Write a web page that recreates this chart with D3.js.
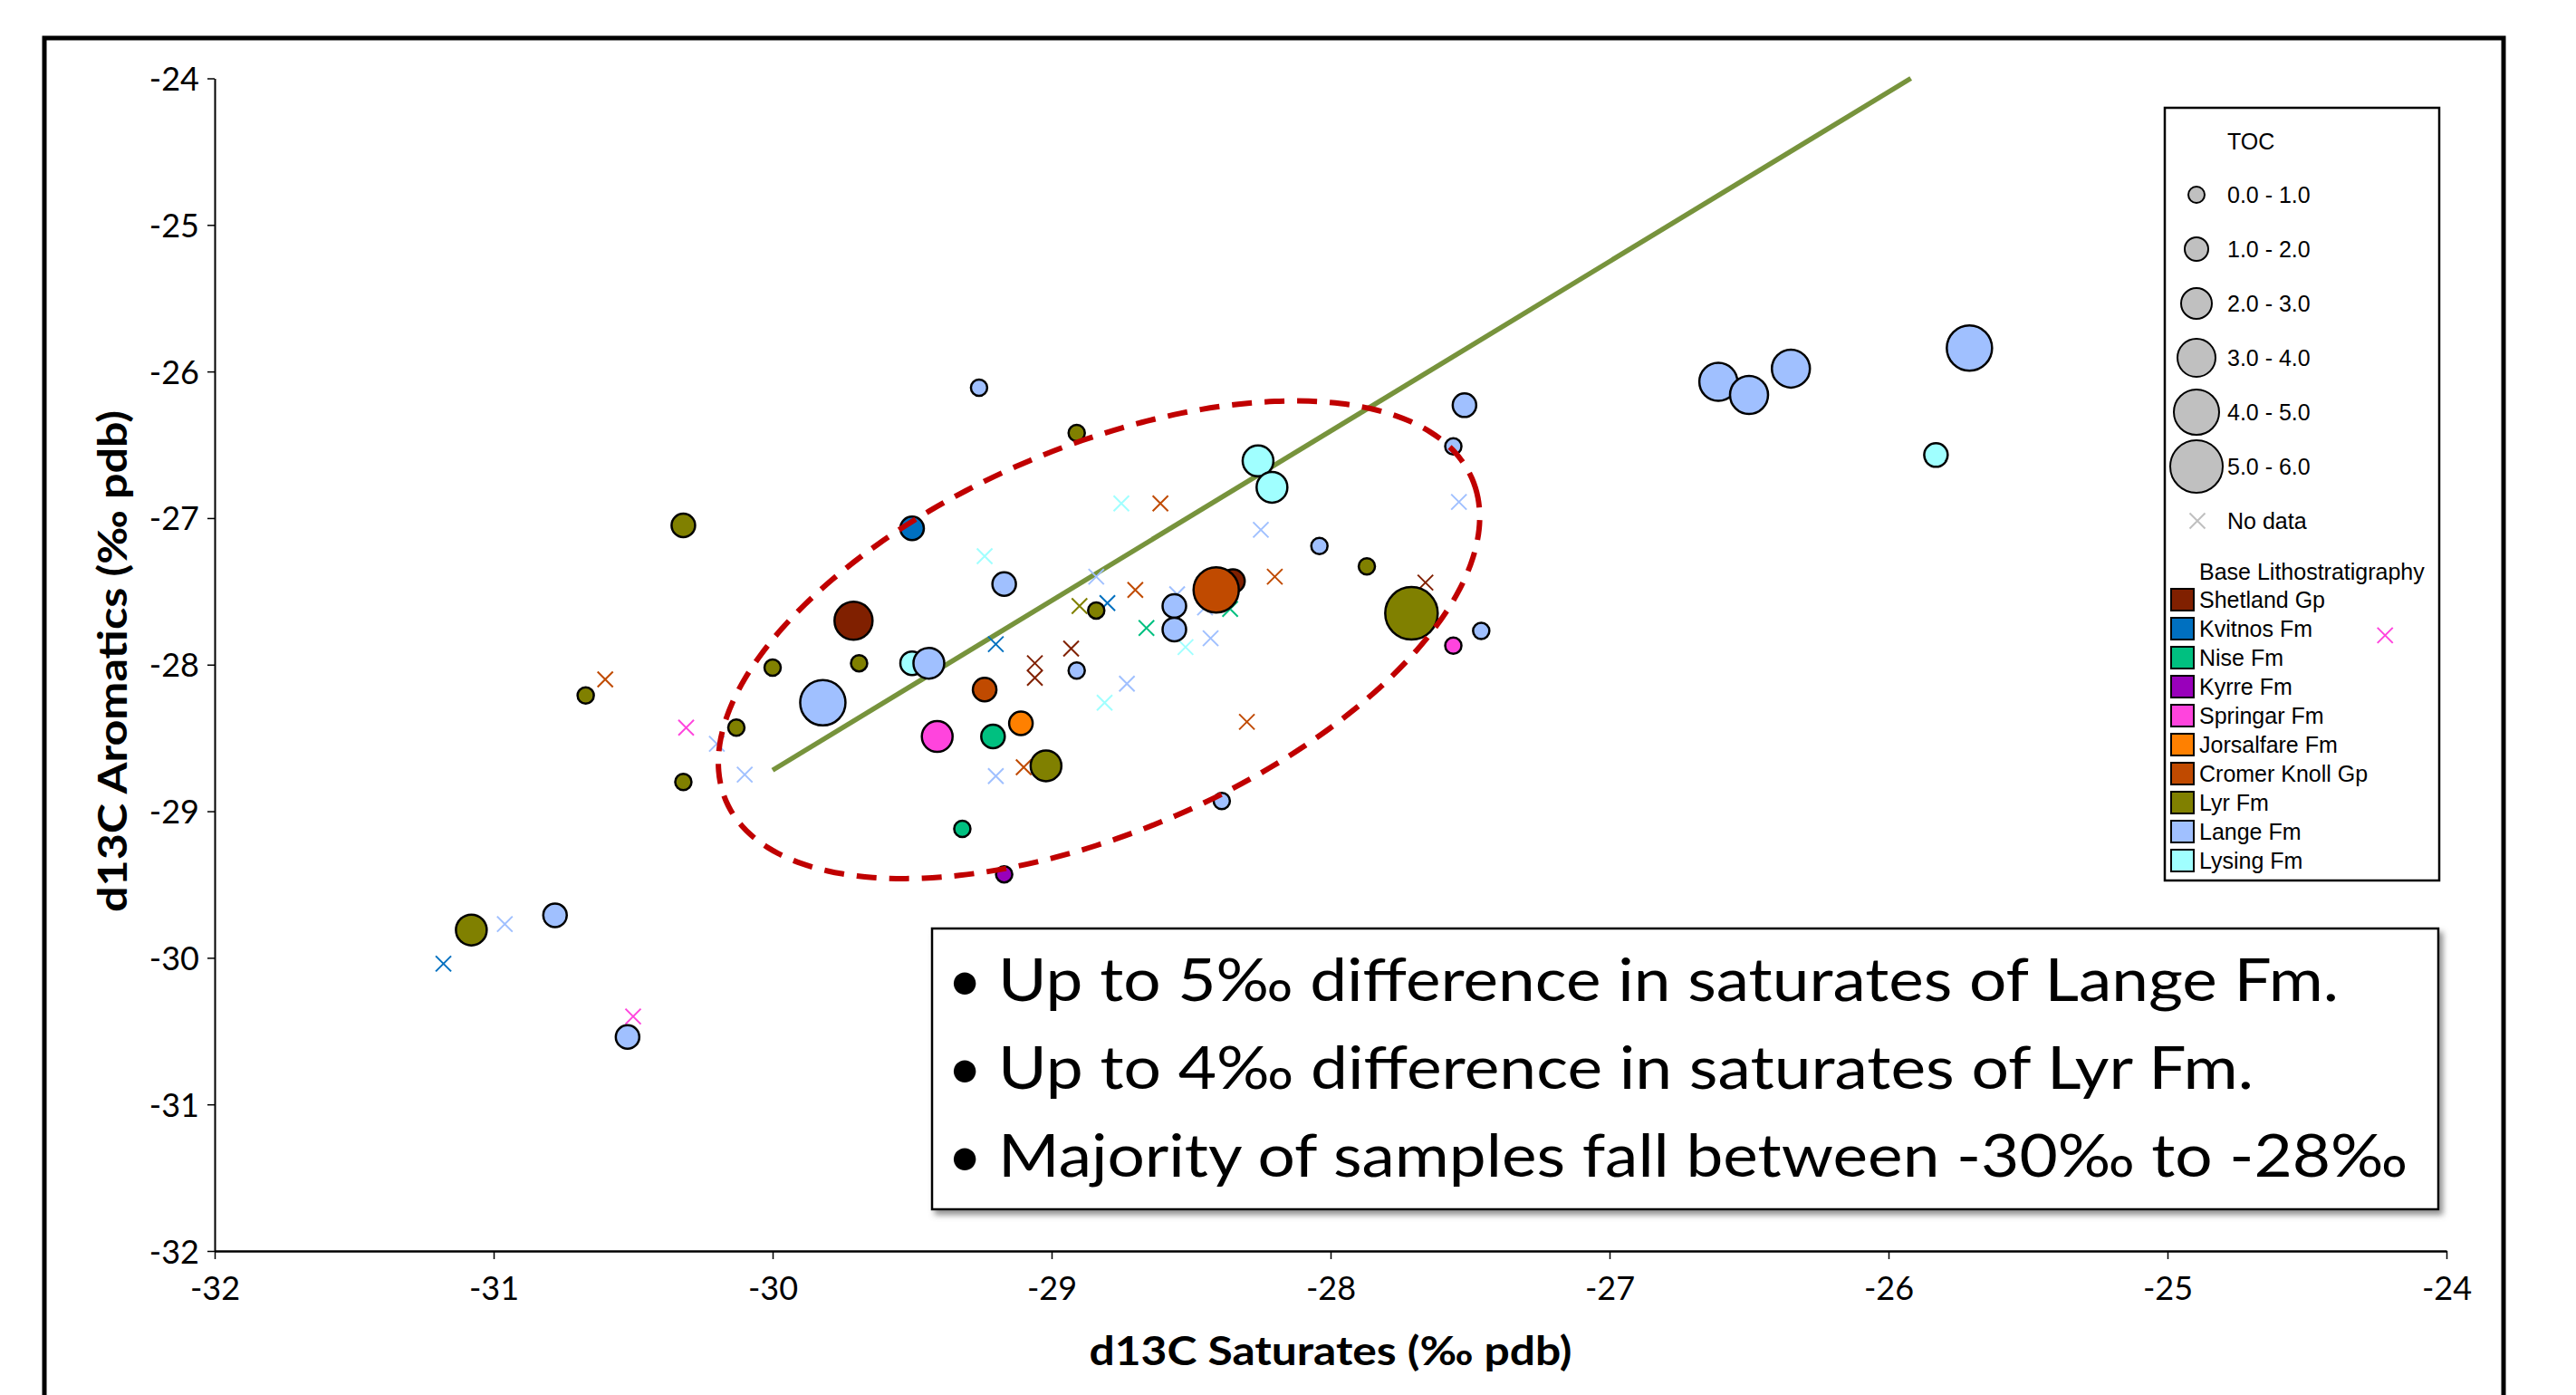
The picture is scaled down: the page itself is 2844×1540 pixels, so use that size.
<!DOCTYPE html>
<html>
<head>
<meta charset="utf-8">
<script src="https://cdn.jsdelivr.net/npm/d3@7"></script>
<style>
body { margin: 0; background: #fff; }
</style>
</head>
<body>
<div id="chart"></div>
<script>
var width = 2844;
var height = 1540;

// legend order of the formations
var formations = ['Shetland Gp', 'Kvitnos Fm', 'Nise Fm', 'Kyrre Fm', 'Springar Fm',
    'Jorsalfare Fm', 'Cromer Knoll Gp', 'Lyr Fm', 'Lange Fm', 'Lysing Fm'];
var colorArray = ['#802000', '#0070c0', '#00c080', '#9900bb', '#ff44dd',
    '#ff8000', '#c04a00', '#808000', '#a0c0ff', '#a0ffff'];

// [d13C saturates, d13C aromatics, TOC]  (TOC null = no data)
var shetland = [
    [-29.71, -27.70, 3.5], [-28.35, -27.43, 1.5],
    [-29.06, -27.99, null], [-29.06, -28.09, null], [-28.93, -27.89, null], [-27.66, -27.44, null]
];
var kvitnos = [
    [-29.50, -27.07, 1.5],
    [-29.20, -27.86, null], [-28.80, -27.58, null], [-31.18, -30.04, null]
];
var nise = [
    [-29.21, -28.49, 1.5], [-29.32, -29.12, 0.5],
    [-28.66, -27.75, null], [-28.36, -27.62, null]
];
var kyrre = [
    [-29.17, -29.43, 0.5]
];
var springar = [
    [-29.41, -28.49, 2.5], [-27.56, -27.87, 0.5],
    [-30.31, -28.43, null], [-30.50, -30.40, null], [-24.22, -27.80, null]
];
var jorsalfare = [
    [-29.11, -28.40, 1.5]
];
var cromerKnoll = [
    [-29.24, -28.17, 1.5], [-28.41, -27.49, 4.5],
    [-30.60, -28.10, null], [-29.10, -28.70, null], [-28.61, -26.90, null],
    [-28.70, -27.49, null], [-28.20, -27.40, null], [-28.30, -28.39, null]
];
var lyr = [
    [-30.32, -27.05, 1.5], [-30.00, -28.02, 0.5], [-29.69, -27.99, 0.5], [-30.13, -28.43, 0.5],
    [-30.32, -28.80, 0.5], [-30.67, -28.21, 0.5], [-31.08, -29.81, 2.5], [-29.02, -28.69, 2.5],
    [-28.91, -26.42, 0.5], [-28.84, -27.63, 0.5], [-27.87, -27.33, 0.5], [-27.71, -27.65, 5.5],
    [-28.90, -27.60, null]
];
var lange = [
    [-29.26, -26.11, 0.5], [-29.17, -27.45, 1.5], [-29.44, -27.99, 2.5], [-29.82, -28.26, 4.5],
    [-30.78, -29.71, 1.5], [-30.52, -30.54, 1.5], [-28.91, -28.04, 0.5], [-28.56, -27.60, 1.5],
    [-28.56, -27.76, 1.5], [-28.04, -27.19, 0.5], [-27.46, -27.77, 0.5], [-27.56, -26.51, 0.5],
    [-27.52, -26.23, 1.5], [-28.39, -28.93, 0.5], [-26.61, -26.07, 3.5], [-26.50, -26.16, 3.5],
    [-26.35, -25.98, 3.5], [-25.71, -25.84, 4.5],
    [-30.20, -28.54, null], [-30.10, -28.75, null], [-30.96, -29.77, null], [-29.20, -28.76, null],
    [-28.73, -28.13, null], [-28.84, -27.40, null], [-28.43, -27.82, null], [-28.25, -27.08, null],
    [-27.54, -26.89, null], [-28.55, -27.52, null], [-28.45, -27.61, null]
];
var lysing = [
    [-29.50, -27.99, 1.5], [-28.26, -26.61, 2.5], [-28.21, -26.79, 2.5], [-25.83, -26.57, 1.5],
    [-29.24, -27.26, null], [-28.81, -28.26, null], [-28.75, -26.90, null], [-28.52, -27.88, null]
];
var seriesData = [shetland, kvitnos, nise, kyrre, springar, jorsalfare, cromerKnoll, lyr, lange, lysing];
// bubbles of Lysing sit under Lange, Shetland under Cromer Knoll
var bubbleOrder = [9, 0, 1, 2, 3, 4, 5, 6, 7, 8];

var tocBreaks = [1, 2, 3, 4, 5];
var tocLabels = ['0.0 - 1.0', '1.0 - 2.0', '2.0 - 3.0', '3.0 - 4.0', '4.0 - 5.0', '5.0 - 6.0'];
var tocMid = [0.5, 1.5, 2.5, 3.5, 4.5, 5.5];

var xTicks = [-32, -31, -30, -29, -28, -27, -26, -25, -24];
var yTicks = [-32, -31, -30, -29, -28, -27, -26, -25, -24];

// trend line end points, and the dashed ellipse (centre + two conjugate half axes, data units)
var trendLine = [[-30.00, -28.72], [-25.92, -24.00]];
var ellipse = { cx: -28.83, cy: -27.83, ux: 1.337, uy: 1.100, vx: 0.273, vy: -1.202 };

var notes = ['Up to 5\u2030 difference in saturates of Lange Fm.',
    'Up to 4\u2030 difference in saturates of Lyr Fm.',
    'Majority of samples fall between -30\u2030 to -28\u2030'];
var noteWidths = [1480, 1386, 1556];

var svg = d3.select('#chart')
    .append('svg')
    .attr('width', width)
    .attr('height', height);

var defs = svg.append('defs');
var shadow = defs.append('filter').attr('id', 'shadow')
    .attr('x', '-5%').attr('y', '-5%').attr('width', '112%').attr('height', '120%');
shadow.append('feDropShadow')
    .attr('dx', 4).attr('dy', 5).attr('stdDeviation', 3)
    .attr('flood-color', '#777').attr('flood-opacity', 0.8);

// outer frame
svg.append('rect')
    .attr('x', 49).attr('y', 42)
    .attr('width', 2715).attr('height', 1600)
    .attr('fill', 'none').attr('stroke', '#000').attr('stroke-width', 5);

var x = d3.scaleLinear().domain([-32, -24]).range([237, 2701]);
var y = d3.scaleLinear().domain([-32, -24]).range([1381, 86.5]);
var rScale = d3.scaleThreshold().domain(tocBreaks).range([9, 13, 17, 21, 25, 29]);

// axes (plain hyphen for the minus sign, as in the original)
var tickFmt = (d) => String(d);
var xAxis = svg.append('g')
    .attr('transform', 'translate(0,' + y(-32) + ')')
    .call(d3.axisBottom(x).tickValues(xTicks).tickSize(9).tickSizeOuter(0).tickFormat(tickFmt));
xAxis.select('.domain').attr('stroke-width', 2.5);
xAxis.selectAll('.tick line').attr('stroke-width', 1.5);
xAxis.selectAll('text')
    .attr('font-family', 'Lato, sans-serif').attr('font-size', 36).attr('fill', '#000')
    .attr('dy', 0).attr('y', 54);

var yAxis = svg.append('g')
    .attr('transform', 'translate(' + x(-32) + ',0)')
    .call(d3.axisLeft(y).tickValues(yTicks).tickSize(8).tickSizeOuter(0).tickFormat(tickFmt));
yAxis.select('.domain').attr('stroke-width', 2);
yAxis.selectAll('.tick line').attr('stroke-width', 1.5);
yAxis.selectAll('text')
    .attr('font-family', 'Lato, sans-serif').attr('font-size', 36).attr('fill', '#000')
    .attr('x', -17).attr('dy', 13);

svg.append('text')
    .attr('x', 1469).attr('y', 1507)
    .attr('text-anchor', 'middle')
    .attr('font-family', 'Lato, sans-serif').attr('font-weight', 'bold').attr('font-size', 44)
    .attr('textLength', 533).attr('lengthAdjust', 'spacingAndGlyphs')
    .text('d13C Saturates (\u2030 pdb)');

svg.append('text')
    .attr('transform', 'translate(140,730) rotate(-90)')
    .attr('text-anchor', 'middle')
    .attr('font-family', 'Lato, sans-serif').attr('font-weight', 'bold').attr('font-size', 44)
    .attr('textLength', 554).attr('lengthAdjust', 'spacingAndGlyphs')
    .text('d13C Aromatics (\u2030 pdb)');

// trend line
svg.append('line')
    .attr('x1', x(trendLine[0][0])).attr('y1', y(trendLine[0][1]))
    .attr('x2', x(trendLine[1][0])).attr('y2', y(trendLine[1][1]))
    .attr('stroke', '#77933c').attr('stroke-width', 5.5);

var xMark = (h) => 'M' + (-h) + ',' + (-h) + 'L' + h + ',' + h + 'M' + (-h) + ',' + h + 'L' + h + ',' + (-h);

// no-data crosses first, then the bubbles
seriesData.forEach((serie, i) => {
    svg.append('g')
        .selectAll('path')
        .data(serie.filter((d) => d[2] === null))
        .enter()
        .append('path')
        .attr('transform', (d) => 'translate(' + x(d[0]) + ',' + y(d[1]) + ')')
        .attr('d', xMark(8.5))
        .attr('fill', 'none')
        .attr('stroke', colorArray[i])
        .attr('stroke-width', 2);
});

bubbleOrder.forEach((i) => {
    svg.append('g')
        .selectAll('circle')
        .data(seriesData[i].filter((d) => d[2] !== null))
        .enter()
        .append('circle')
        .attr('cx', (d) => x(d[0]))
        .attr('cy', (d) => y(d[1]))
        .attr('r', (d) => rScale(d[2]))
        .attr('fill', colorArray[i])
        .attr('stroke', '#000')
        .attr('stroke-width', 2.5);
});

// dashed ellipse drawn over the points
var ellPts = d3.range(0, 361, 3).map((a) => {
    var t = a * Math.PI / 180;
    return [x(ellipse.cx + ellipse.ux * Math.cos(t) + ellipse.vx * Math.sin(t)),
        y(ellipse.cy + ellipse.uy * Math.cos(t) + ellipse.vy * Math.sin(t))];
});
svg.append('path')
    .attr('d', d3.line().curve(d3.curveCardinalClosed)(ellPts.slice(0, -1)))
    .attr('fill', 'none')
    .attr('stroke', '#c00000')
    .attr('stroke-width', 6)
    .attr('stroke-dasharray', '22 14');

// legend
var legend = svg.append('g');
legend.append('rect')
    .attr('x', 2390).attr('y', 119).attr('width', 303).attr('height', 853)
    .attr('fill', '#fff').attr('stroke', '#000').attr('stroke-width', 2.5);

var legFont = 'Liberation Sans, Arial, sans-serif';
legend.append('text')
    .attr('x', 2459).attr('y', 165)
    .attr('font-family', legFont).attr('font-size', 25)
    .text('TOC');

var tocRows = legend.selectAll('.toc')
    .data(tocLabels)
    .enter()
    .append('g')
    .attr('class', 'toc')
    .attr('transform', (d, i) => 'translate(2425,' + (215 + i * 60) + ')');
tocRows.append('circle')
    .attr('r', (d, i) => rScale(tocMid[i]))
    .attr('fill', '#c0c0c0').attr('stroke', '#000').attr('stroke-width', 2);
tocRows.append('text')
    .attr('x', 34).attr('y', 9)
    .attr('font-family', legFont).attr('font-size', 25)
    .text((d) => d);

legend.append('path')
    .attr('transform', 'translate(2426,575)')
    .attr('d', xMark(8.5))
    .attr('stroke', '#bfbfbf').attr('stroke-width', 2).attr('fill', 'none');
legend.append('text')
    .attr('x', 2459).attr('y', 584)
    .attr('font-family', legFont).attr('font-size', 25)
    .text('No data');

legend.append('text')
    .attr('x', 2428).attr('y', 640)
    .attr('font-family', legFont).attr('font-size', 25)
    .text('Base Lithostratigraphy');

var fmRows = legend.selectAll('.fm')
    .data(formations)
    .enter()
    .append('g')
    .attr('class', 'fm')
    .attr('transform', (d, i) => 'translate(0,' + (662 + i * 32) + ')');
fmRows.append('rect')
    .attr('x', 2397).attr('y', -12).attr('width', 25).attr('height', 24)
    .attr('fill', (d, i) => colorArray[i])
    .attr('stroke', '#000').attr('stroke-width', 2);
fmRows.append('text')
    .attr('x', 2428).attr('y', 9)
    .attr('font-family', legFont).attr('font-size', 25)
    .text((d) => d);

// the outlier cross that sits on the legend
svg.append('path')
    .attr('transform', 'translate(' + x(springar[4][0]) + ',' + y(springar[4][1]) + ')')
    .attr('d', xMark(8.5))
    .attr('fill', 'none').attr('stroke', colorArray[4]).attr('stroke-width', 2);

// notes box
var box = svg.append('g');
box.append('rect')
    .attr('x', 1029).attr('y', 1025).attr('width', 1663).attr('height', 310)
    .attr('fill', '#fff').attr('stroke', '#000').attr('stroke-width', 2.5)
    .attr('filter', 'url(#shadow)');
var noteRows = box.selectAll('.note')
    .data(notes)
    .enter()
    .append('g')
    .attr('class', 'note')
    .attr('transform', (d, i) => 'translate(0,' + (1105 + i * 97) + ')');
noteRows.append('text')
    .attr('x', 1046)
    .attr('font-family', 'Lato, sans-serif').attr('font-size', 66)
    .text('\u2022');
noteRows.append('text')
    .attr('x', 1102)
    .attr('font-family', 'Lato, sans-serif').attr('font-size', 66)
    .attr('textLength', (d, i) => noteWidths[i]).attr('lengthAdjust', 'spacingAndGlyphs')
    .text((d) => d);
</script>
</body>
</html>
